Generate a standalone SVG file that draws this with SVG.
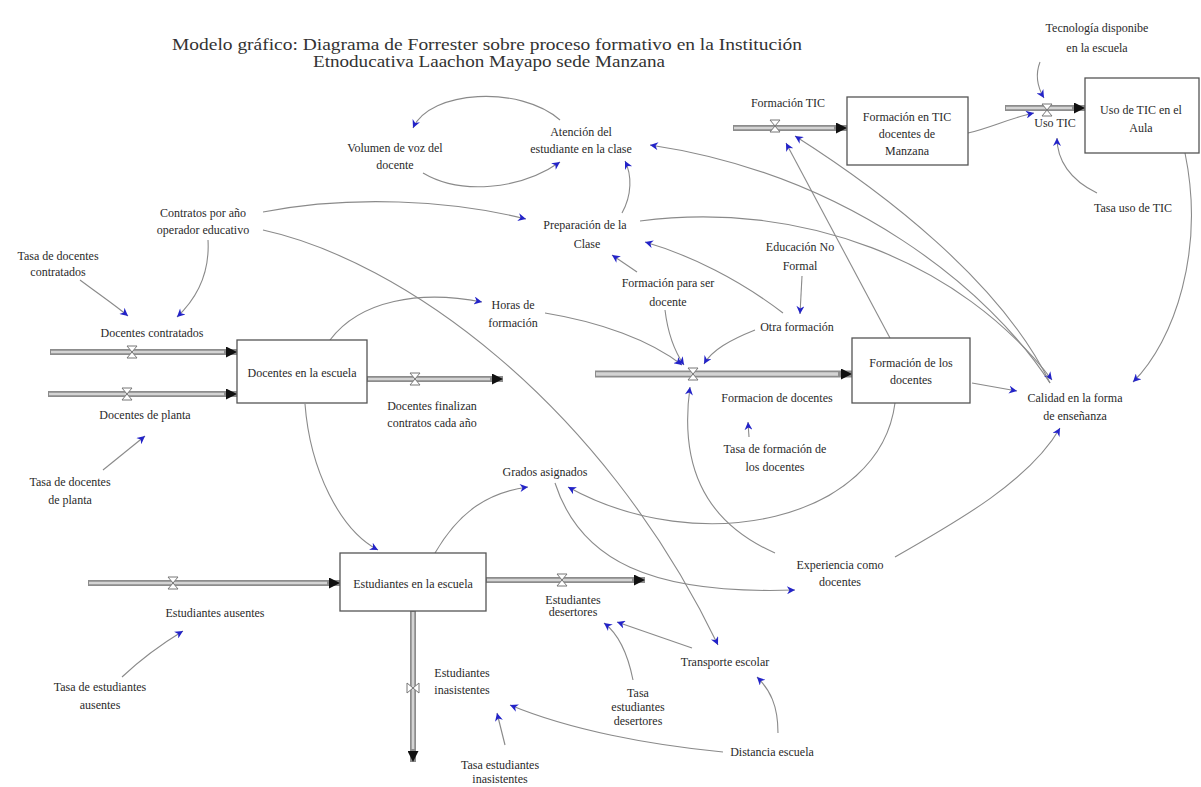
<svg xmlns="http://www.w3.org/2000/svg" width="1201" height="787" viewBox="0 0 1201 787">
<style>
text{font-family:"Liberation Serif","Times New Roman",serif;font-size:12px;fill:#2a2a2a;text-anchor:middle}
.title{font-size:16px;fill:#333}
.box{fill:#fff;stroke:#555;stroke-width:1.3}
.c{fill:none;stroke:#8a8a8a;stroke-width:1.1;marker-end:url(#a)}
.po{fill:none;stroke:#8c8c8c;stroke-width:6;marker-end:url(#p)}
.pi{fill:none;stroke:#d4d4d4;stroke-width:2.6}
.v{fill:#fff;stroke:#777;stroke-width:1}
</style>
<defs>
<marker id="a" viewBox="0 0 10 10" refX="10" refY="5" markerWidth="11" markerHeight="8" markerUnits="userSpaceOnUse" orient="auto">
<path d="M0,0 L10,5 L0,10 L3,5 z" fill="#2323c8"/>
</marker>
<marker id="p" viewBox="0 0 10 10" refX="10" refY="5" markerWidth="15" markerHeight="11" markerUnits="userSpaceOnUse" orient="auto">
<path d="M0,0 L10,5 L0,10 z" fill="#111"/>
</marker>
<path id="valve" d="M-5,-6 L5,-6 L-5,6 L5,6 Z" class="v"/>
</defs>
<rect width="1201" height="787" fill="#fff"/>

<g id="title">
<text class="title" x="487" y="50" textLength="630" lengthAdjust="spacingAndGlyphs">Modelo gráfico: Diagrama de Forrester sobre proceso formativo en la Institución</text>
<text class="title" x="489" y="67" textLength="352" lengthAdjust="spacingAndGlyphs">Etnoducativa Laachon Mayapo sede Manzana</text>
</g>

<g id="connectors">
<path class="c" d="M560,120 C520,85 430,90 413,128"/>
<path class="c" d="M423,173 C460,195 520,190 560,162"/>
<path class="c" d="M622,213 C632,195 632,175 625,161"/>
<path class="c" d="M1050,383 C990,290 850,175 650,145"/>
<path class="c" d="M640,221 C800,200 960,260 1052,380"/>
<path class="c" d="M1050,383 C1000,280 880,190 795,136"/>
<path class="c" d="M890,338 L786,143"/>
<path class="c" d="M1185,153 C1205,250 1175,340 1133,382"/>
<path class="c" d="M895,557 C960,520 1030,480 1060,428"/>
<path class="c" d="M263,230 C400,260 600,400 718,645"/>
<path class="c" d="M263,212 C350,195 450,200 526,219"/>
<path class="c" d="M330,340 C360,300 420,290 482,302"/>
<path class="c" d="M545,313 C600,322 650,340 682,365"/>
<path class="c" d="M665,310 C668,335 675,352 684,365"/>
<path class="c" d="M755,330 C730,340 712,350 704,364"/>
<path class="c" d="M802,276 L800,314"/>
<path class="c" d="M637,272 L612,255"/>
<path class="c" d="M783,313 C740,280 690,255 645,242"/>
<path class="c" d="M775,553 C700,520 680,460 690,387"/>
<path class="c" d="M895,403 C880,520 700,560 568,487"/>
<path class="c" d="M555,483 C580,560 650,595 795,590"/>
<path class="c" d="M305,404 C310,470 340,530 378,550"/>
<path class="c" d="M435,553 C460,510 490,492 528,487"/>
<path class="c" d="M80,280 C100,295 115,305 128,316"/>
<path class="c" d="M208,240 C210,275 195,300 177,317"/>
<path class="c" d="M103,470 L145,436"/>
<path class="c" d="M122,677 C140,660 160,645 183,631"/>
<path class="c" d="M968,133 C990,128 1010,118 1034,113"/>
<path class="c" d="M1040,62 C1035,75 1038,88 1044,98"/>
<path class="c" d="M1097,193 C1070,180 1057,160 1057,138"/>
<path class="c" d="M972,383 L1017,391"/>
<path class="c" d="M749,437 L748,422"/>
<path class="c" d="M692,648 L617,622"/>
<path class="c" d="M633,680 C628,655 620,635 604,623"/>
<path class="c" d="M778,733 C778,705 770,690 757,677"/>
<path class="c" d="M723,752 C650,745 570,730 510,705"/>
<path class="c" d="M505,745 L497,713"/>
</g>

<g id="flows">
<g id="flow-docentes-contratados">
<path class="po" d="M50,352 L237,352"/><path class="pi" d="M51,352 L224,352"/>
<use href="#valve" x="132" y="352"/>
</g>
<g id="flow-docentes-planta">
<path class="po" d="M48,394 L237,394"/><path class="pi" d="M49,394 L224,394"/>
<use href="#valve" x="127" y="394"/>
</g>
<g id="flow-docentes-finalizan">
<path class="po" d="M367,379 L503,379"/><path class="pi" d="M368,379 L490,379"/>
<use href="#valve" x="415" y="379"/>
</g>
<g id="flow-formacion-docentes">
<path class="po" d="M595,374 L852,374" style="stroke-width:7"/><path class="pi" d="M596,374 L838,374" style="stroke-width:3.4"/>
<use href="#valve" x="693" y="374"/>
</g>
<g id="flow-formacion-tic">
<path class="po" d="M733,128 L847,128"/><path class="pi" d="M734,128 L834,128"/>
<use href="#valve" x="775" y="126"/>
</g>
<g id="flow-uso-tic">
<path class="po" d="M1005,108 L1085,108"/><path class="pi" d="M1006,108 L1072,108"/>
<use href="#valve" x="1047" y="110"/>
</g>
<g id="flow-estudiantes-ausentes">
<path class="po" d="M88,583 L340,583"/><path class="pi" d="M89,583 L327,583"/>
<use href="#valve" x="173" y="583"/>
</g>
<g id="flow-estudiantes-desertores">
<path class="po" d="M486,580 L645,580"/><path class="pi" d="M487,580 L632,580"/>
<use href="#valve" x="562" y="580"/>
</g>
<g id="flow-estudiantes-inasistentes">
<path class="po" d="M413,611 L413,762"/><path class="pi" d="M413,612 L413,749"/>
<use href="#valve" x="413" y="688" transform="rotate(90 413 688)"/>
</g>
</g>

<g id="stock-docentes-escuela"><rect class="box" x="237" y="340" width="130" height="63"/><text x="302" y="377">Docentes en la escuela</text></g>
<g id="stock-formacion-tic"><rect class="box" x="847" y="97" width="121" height="68"/><text x="907" y="121">Formación en TIC</text><text x="907" y="138">docentes de</text><text x="907" y="155">Manzana</text></g>
<g id="stock-uso-tic"><rect class="box" x="1085" y="78" width="114" height="75"/><text x="1141" y="114">Uso de TIC en el</text><text x="1141" y="132">Aula</text></g>
<g id="stock-formacion-docentes"><rect class="box" x="852" y="338" width="118" height="65"/><text x="911" y="367">Formación de los</text><text x="911" y="384">docentes</text></g>
<g id="stock-estudiantes"><rect class="box" x="340" y="553" width="146" height="58"/><text x="413" y="588">Estudiantes en la escuela</text></g>

<g id="var-volumen"><text x="395" y="152">Volumen de voz del</text><text x="395" y="169">docente</text></g>
<g id="var-atencion"><text x="581" y="136">Atención del</text><text x="581" y="153">estudiante en la clase</text></g>
<g id="var-formacion-tic-rate"><text x="788" y="107">Formación TIC</text></g>
<g id="var-tecnologia"><text x="1097" y="32">Tecnología disponibe</text><text x="1097" y="52">en la escuela</text></g>
<g id="var-uso-tic-rate"><text x="1055" y="127">Uso TIC</text></g>
<g id="var-tasa-uso-tic"><text x="1133" y="212">Tasa uso de TIC</text></g>
<g id="var-contratos"><text x="203" y="217">Contratos por año</text><text x="203" y="234">operador educativo</text></g>
<g id="var-preparacion"><text x="585" y="229">Preparación de la</text><text x="587" y="248">Clase</text></g>
<g id="var-tasa-contratados"><text x="58" y="260">Tasa de docentes</text><text x="58" y="276">contratados</text></g>
<g id="var-educacion-no-formal"><text x="800" y="251">Educación No</text><text x="800" y="270">Formal</text></g>
<g id="var-formacion-ser-docente"><text x="668" y="287">Formación para ser</text><text x="668" y="306">docente</text></g>
<g id="var-horas"><text x="513" y="309">Horas de</text><text x="513" y="327">formación</text></g>
<g id="var-otra-formacion"><text x="797" y="331">Otra formación</text></g>
<g id="var-docentes-contratados"><text x="152" y="337">Docentes contratados</text></g>
<g id="var-docentes-planta"><text x="145" y="419">Docentes de planta</text></g>
<g id="var-docentes-finalizan"><text x="432" y="410">Docentes finalizan</text><text x="432" y="427">contratos cada año</text></g>
<g id="var-formacion-docentes-rate"><text x="777" y="402">Formacion de docentes</text></g>
<g id="var-calidad"><text x="1075" y="402">Calidad en la forma</text><text x="1075" y="420">de enseñanza</text></g>
<g id="var-tasa-formacion"><text x="775" y="453">Tasa de formación de</text><text x="775" y="471">los docentes</text></g>
<g id="var-tasa-planta"><text x="70" y="486">Tasa de docentes</text><text x="70" y="504">de planta</text></g>
<g id="var-grados"><text x="545" y="476">Grados asignados</text></g>
<g id="var-ausentes"><text x="215" y="617">Estudiantes ausentes</text></g>
<g id="var-experiencia"><text x="840" y="569">Experiencia como</text><text x="840" y="586">docentes</text></g>
<g id="var-desertores"><text x="573" y="604">Estudiantes</text><text x="573" y="616">desertores</text></g>
<g id="var-transporte"><text x="725" y="666">Transporte escolar</text></g>
<g id="var-inasistentes"><text x="462" y="677">Estudiantes</text><text x="462" y="694">inasistentes</text></g>
<g id="var-tasa-desertores"><text x="638" y="697">Tasa</text><text x="638" y="711">estudiantes</text><text x="638" y="725">desertores</text></g>
<g id="var-tasa-ausentes"><text x="100" y="691">Tasa de estudiantes</text><text x="100" y="709">ausentes</text></g>
<g id="var-distancia"><text x="772" y="756">Distancia escuela</text></g>
<g id="var-tasa-inasistentes"><text x="500" y="769">Tasa estudiantes</text><text x="500" y="783">inasistentes</text></g>
</svg>
